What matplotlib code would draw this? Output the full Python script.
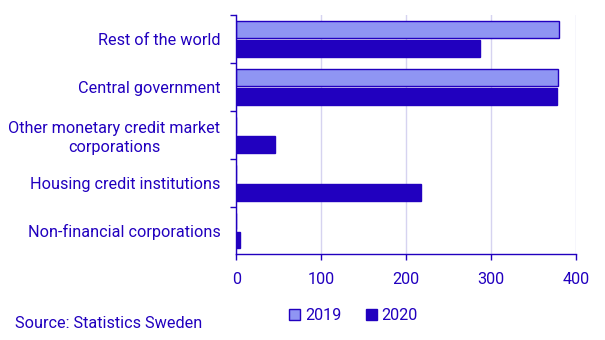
import matplotlib.pyplot as plt
import numpy as np

categories = ["Rest of the world", "Central government",
              "Other monetary credit market\ncorporations",
              "Housing credit institutions", "Non-financial corporations"]
values_2019 = [380, 379, 0, 0, 0]
values_2020 = [287, 378, 46, 218, 4]
xticks = [0, 100, 200, 300, 400]

dark = "#2100BF"
light = "#8F95F3"
grid_c = "#D6D3F0"
fs = 11.7

plt.rcParams['font.family'] = ['Roboto', 'DejaVu Sans']

fig = plt.figure(figsize=(6.05, 3.4), dpi=100)
ax = fig.add_axes([0.3906, 0.2515, 0.5615, 0.705])

y = np.arange(len(categories))
ax.barh(y - 0.2, values_2019, height=0.35, color=light, edgecolor=dark, linewidth=1, label="2019")
ax.barh(y + 0.2, values_2020, height=0.35, color=dark, edgecolor=dark, linewidth=1, label="2020")

ax.set_ylim(len(categories) - 0.5, -0.5)
ax.set_xlim(0, 400)

# labels at category centres, tick marks at the boundaries
ax.set_yticks(y)
ax.set_yticklabels(categories, multialignment="center", linespacing=1.3)
ax.tick_params(axis="y", which="major", length=0, pad=11.5, labelsize=fs, labelcolor=dark)
ax.set_yticks(np.arange(len(categories)) - 0.5, minor=True)
ax.tick_params(axis="y", which="minor", length=4, width=1, color=dark, direction="out")

ax.set_xticks(xticks)
ax.tick_params(axis="x", length=4, width=1, color=dark, labelsize=fs, labelcolor=dark, pad=8.5)

ax.grid(axis="x", color=grid_c, linewidth=1)
ax.set_axisbelow(True)
for side in ["top", "right"]:
    ax.spines[side].set_visible(False)
for side in ["left", "bottom"]:
    ax.spines[side].set_color(dark)
    ax.spines[side].set_linewidth(1)

leg = fig.legend(loc="center", bbox_to_anchor=(0.584, 0.0706), ncol=2, frameon=False,
                 fontsize=fs, handlelength=0.68, handleheight=0.68, handletextpad=0.3,
                 columnspacing=1.5)
for t in leg.get_texts():
    t.set_color(dark)

fig.text(0.025, 0.05, "Source: Statistics Sweden", color=dark, fontsize=fs, va="center")

fig.savefig("out.png", dpi=100)
